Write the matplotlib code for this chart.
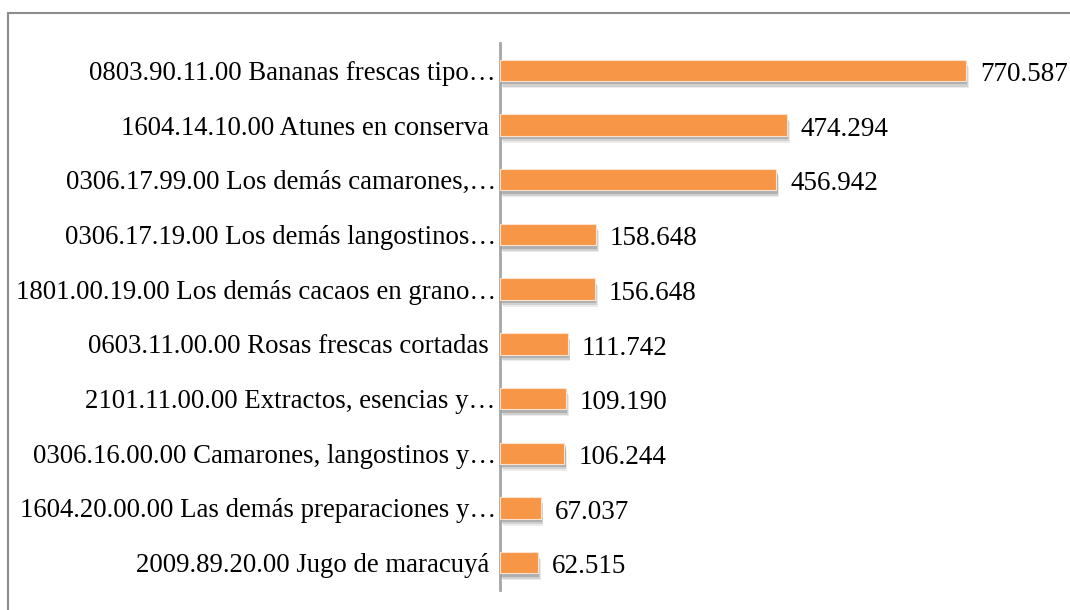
import matplotlib.pyplot as plt
import matplotlib.patheffects as pe
from matplotlib.patches import Rectangle

productos = [
    "0803.90.11.00 Bananas frescas tipo…",
    "1604.14.10.00 Atunes en conserva ",
    "0306.17.99.00 Los demás camarones,…",
    "0306.17.19.00 Los demás langostinos…",
    "1801.00.19.00 Los demás cacaos en grano…",
    "0603.11.00.00 Rosas frescas cortadas ",
    "2101.11.00.00 Extractos, esencias y…",
    "0306.16.00.00 Camarones, langostinos y…",
    "1604.20.00.00 Las demás preparaciones y…",
    "2009.89.20.00 Jugo de maracuyá ",
]
valores = [770.587, 474.294, 456.942, 158.648, 156.648,
           111.742, 109.190, 106.244, 67.037, 62.515]
etiquetas = ["770.587", "474.294", "456.942", "158.648", "156.648",
             "111.742", "109.190", "106.244", "67.037", "62.515"]

plt.rcParams['font.family'] = ['Liberation Serif', 'DejaVu Serif']

fig = plt.figure(figsize=(10.7, 6.1), dpi=100)
ax = fig.add_axes([500 / 1070, 20 / 610, 560 / 1070, 547 / 610])

# marco del grafico
fig.patches.append(Rectangle((8 / 1070, -0.1), 1.2, 1.1 - 13 / 610,
                             transform=fig.transFigure, fill=False,
                             edgecolor='#8c8c8c', linewidth=1.5))

pos = list(range(len(valores)))
bars = ax.barh(pos, valores, height=0.39, color='#F79646',
               edgecolor='#fde3cf', linewidth=0.8, zorder=3)
for b in bars:
    b.set_path_effects([
        pe.SimplePatchShadow(offset=(2, -5), shadow_rgbFace='#c8c8c8', alpha=0.35),
        pe.SimplePatchShadow(offset=(1.5, -4), shadow_rgbFace='#a0a0a0', alpha=0.35),
        pe.SimplePatchShadow(offset=(1, -2.5), shadow_rgbFace='#808080', alpha=0.4),
        pe.Normal(),
    ])

for p, v, t in zip(pos, valores, etiquetas):
    ax.annotate(t, (v, p), xytext=(10, -3), textcoords='offset points',
                va='center', ha='left', fontsize=19.5, color='black')

ax.set_yticks(pos)
ax.set_yticklabels(productos, fontsize=19.3)
ax.tick_params(axis='y', length=0, pad=3)
ax.set_xticks([])
ax.set_xlim(0, 926)
ax.set_ylim(len(valores) - 0.5, -0.5)

for s in ['top', 'right', 'bottom']:
    ax.spines[s].set_visible(False)
ax.spines['left'].set_color('#a6a6a6')
ax.spines['left'].set_linewidth(2)

plt.savefig('out.png', dpi=100)
